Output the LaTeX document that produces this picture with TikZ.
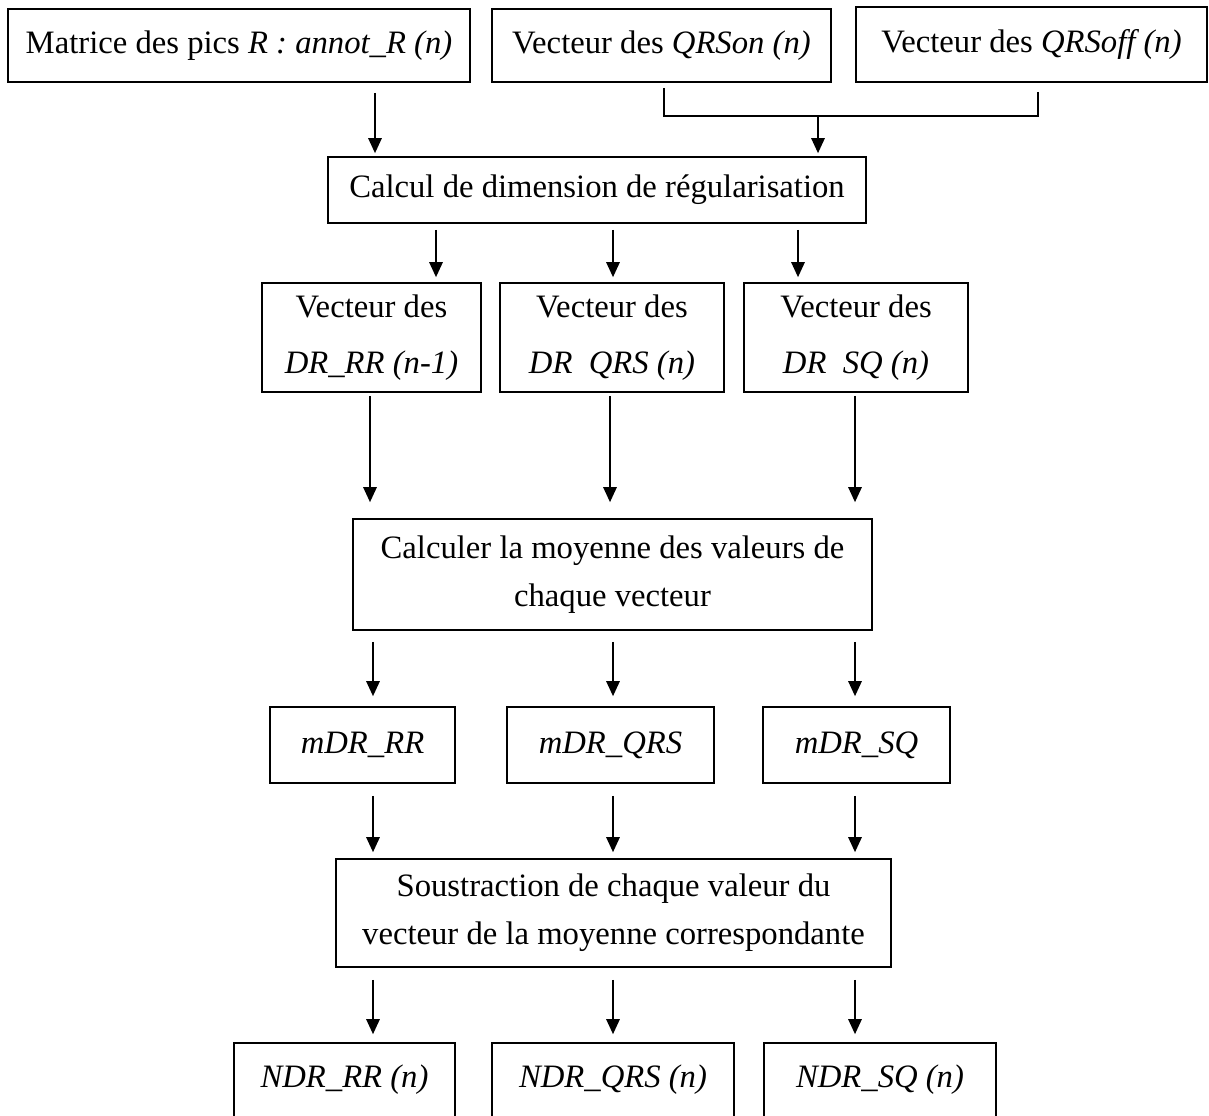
\documentclass[tikz,border=0pt]{standalone}
\usepackage{fontspec}
\setmainfont{Liberation Serif}
\usetikzlibrary{arrows.meta}

\begin{document}
\begin{tikzpicture}[x=0.02cm, y=-0.02cm, line width=0.8pt,
  every node/.style={font=\fontsize{18.6}{27.5}\selectfont},
  box/.style={draw, line width=1pt, rectangle, align=center, inner sep=0pt},
  flow/.style={-{Triangle[length=0.3cm, width=0.27cm]}}]

\useasboundingbox (0,0) rectangle (1209,1115);

% inputs
\node[box, minimum width=9.24cm, minimum height=1.46cm] (annot) at (239,45.5) {Matrice des pics \textit{R : annot\_R (n)}};
\node[box, minimum width=6.78cm, minimum height=1.46cm] (qrson) at (661.5,45.5) {Vecteur des \textit{QRSon (n)}};
\node[box, minimum width=7.02cm, minimum height=1.50cm] (qrsoff) at (1031.5,44.5) {Vecteur des \textit{QRSoff (n)}};

\node[box, minimum width=10.76cm, minimum height=1.32cm] (calc) at (597,190) {Calcul de dimension de régularisation};

% vecteurs DR
\node[box, minimum width=4.38cm, minimum height=2.18cm] (drrr) at (371.5,337.5) {Vecteur des\\[4pt] \textit{DR\_RR (n-1)}};
\node[box, minimum width=4.48cm, minimum height=2.18cm] (drqrs) at (612,337.5) {Vecteur des\\[4pt] \textit{DR\enspace QRS (n)}};
\node[box, minimum width=4.48cm, minimum height=2.18cm] (drsq) at (856,337.5) {Vecteur des\\[4pt] \textit{DR\enspace SQ (n)}};

\node[box, minimum width=10.38cm, minimum height=2.22cm] (moy) at (612.5,574.5) {Calculer la moyenne des valeurs de\\ chaque vecteur};

% moyennes
\node[box, minimum width=3.70cm, minimum height=1.52cm] (mrr) at (362.5,745) {\textit{mDR\_RR}};
\node[box, minimum width=4.14cm, minimum height=1.52cm] (mqrs) at (610.5,745) {\textit{mDR\_QRS}};
\node[box, minimum width=3.74cm, minimum height=1.52cm] (msq) at (856.5,745) {\textit{mDR\_SQ}};

\node[box, minimum width=11.1cm, minimum height=2.16cm] (sous) at (613.5,913) {Soustraction de chaque valeur du\\ vecteur de la moyenne correspondante};

% sorties
\node[box, minimum width=4.42cm, minimum height=1.48cm] (nrr) at (344.5,1080) {\textit{NDR\_RR (n)}};
\node[box, minimum width=4.84cm, minimum height=1.48cm] (nqrs) at (613,1080) {\textit{NDR\_QRS (n)}};
\node[box, minimum width=4.64cm, minimum height=1.48cm] (nsq) at (880,1080) {\textit{NDR\_SQ (n)}};

% connections
\coordinate (join) at (818,116);
\draw[flow, shorten <=0.2cm, shorten >=0.06cm] (annot.south -| 375,0) -- (calc.north -| 375,0);
\draw[shorten <=0.1cm] (qrson.south -| 664,0) |- (join);
\draw[shorten <=0.18cm] (qrsoff.south -| 1038,0) |- (join);
\draw[flow, shorten >=0.06cm] (join) -- (calc.north -| join);

\draw[flow, shorten <=0.12cm, shorten >=0.1cm] (calc.south -| 436,0) -- (drrr.north -| 436,0);
\draw[flow, shorten <=0.12cm, shorten >=0.1cm] (calc.south -| 613,0) -- (drqrs.north -| 613,0);
\draw[flow, shorten <=0.12cm, shorten >=0.1cm] (calc.south -| 798,0) -- (drsq.north -| 798,0);

\draw[flow, shorten <=0.06cm, shorten >=0.32cm] (drrr.south -| 370,0) -- (moy.north -| 370,0);
\draw[flow, shorten <=0.06cm, shorten >=0.32cm] (drqrs.south -| 610,0) -- (moy.north -| 610,0);
\draw[flow, shorten <=0.06cm, shorten >=0.32cm] (drsq.south -| 855,0) -- (moy.north -| 855,0);

\draw[flow, shorten <=0.22cm, shorten >=0.2cm] (moy.south -| 373,0) -- (mrr.north -| 373,0);
\draw[flow, shorten <=0.22cm, shorten >=0.2cm] (moy.south -| 613,0) -- (mqrs.north -| 613,0);
\draw[flow, shorten <=0.22cm, shorten >=0.2cm] (moy.south -| 855,0) -- (msq.north -| 855,0);

\draw[flow, shorten <=0.24cm, shorten >=0.12cm] (mrr.south -| 373,0) -- (sous.north -| 373,0);
\draw[flow, shorten <=0.24cm, shorten >=0.12cm] (mqrs.south -| 613,0) -- (sous.north -| 613,0);
\draw[flow, shorten <=0.24cm, shorten >=0.12cm] (msq.south -| 855,0) -- (sous.north -| 855,0);

\draw[flow, shorten <=0.24cm, shorten >=0.16cm] (sous.south -| 373,0) -- (nrr.north -| 373,0);
\draw[flow, shorten <=0.24cm, shorten >=0.16cm] (sous.south -| 613,0) -- (nqrs.north -| 613,0);
\draw[flow, shorten <=0.24cm, shorten >=0.16cm] (sous.south -| 855,0) -- (nsq.north -| 855,0);
\end{tikzpicture}
\end{document}
